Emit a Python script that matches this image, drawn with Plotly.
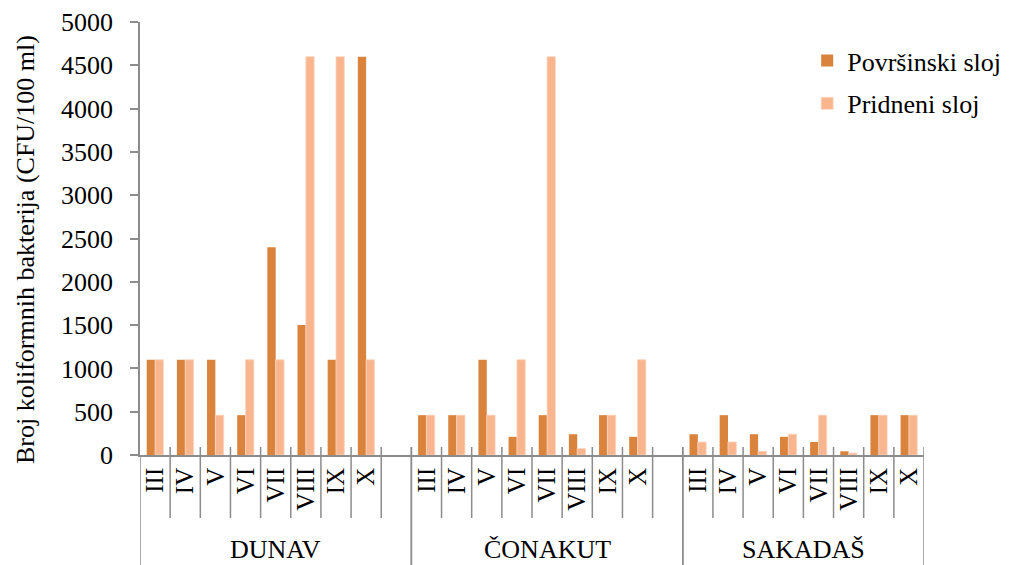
import plotly.graph_objects as go

groups = ["DUNAV", "ČONAKUT", "SAKADAŠ"]
months = ["III", "IV", "V", "VI", "VII", "VIII", "IX", "X"]
# slots per group (Dunav and Čonakut have one empty trailing slot)
group_slots = [9, 9, 8]

povrsinski = {
    "DUNAV":   [1100, 1100, 1100, 460, 2400, 1500, 1100, 4600],
    "ČONAKUT": [460, 460, 1100, 210, 460, 240, 460, 210],
    "SAKADAŠ": [240, 460, 240, 210, 150, 43, 460, 460],
}
pridneni = {
    "DUNAV":   [1100, 1100, 460, 1100, 1100, 4600, 4600, 1100],
    "ČONAKUT": [460, 460, 460, 1100, 4600, 75, 460, 1100],
    "SAKADAŠ": [150, 150, 43, 240, 460, 23, 460, 460],
}
y_ticks = [0, 500, 1000, 1500, 2000, 2500, 3000, 3500, 4000, 4500, 5000]
y_title = "Broj koliformnih bakterija (CFU/100 ml)"

dark = "#DA833D"
light = "#F9B68E"
grey = "#8C8C8C"
font_family = "'Liberation Serif', 'Times New Roman', Times, serif"

# Build slot positions
xs, p_vals, r_vals, tickvals, ticktext = [], [], [], [], []
group_starts = []
pos = 0
for g, n in zip(groups, group_slots):
    group_starts.append(pos)
    for i in range(n):
        xs.append(pos + i)
        if i < len(months):
            p_vals.append(povrsinski[g][i])
            r_vals.append(pridneni[g][i])
            tickvals.append(pos + i)
            ticktext.append(months[i])
        else:
            p_vals.append(None)
            r_vals.append(None)
    pos += n
total = pos

fig = go.Figure()
fig.add_trace(go.Bar(x=xs, y=p_vals, name="Površinski sloj", marker_color=dark,
                     marker_line_width=0, legendgroup="a"))
fig.add_trace(go.Bar(x=xs, y=r_vals, name="Pridneni sloj", marker_color=light,
                     marker_line=dict(color="#FCD6C0", width=0.8), legendgroup="b"))

plot_h = 433.0
plot_w = 784.0
up = 8 / plot_h
short_down = -63 / plot_h
long_down = -112 / plot_h

shapes = []
annotations = []
for g, n, s in zip(groups, group_slots, group_starts):
    # short separators between months (and after the last month)
    last = len(months) if n > len(months) else len(months) - 1
    for i in range(1, last + 1):
        b = s + i - 0.5
        shapes.append(dict(type="line", xref="x", yref="paper", x0=b, x1=b,
                           y0=up, y1=short_down, line=dict(color=grey, width=1.5)))
    # long group boundaries
    for b in (s - 0.5, s + n - 0.5):
        shapes.append(dict(type="line", xref="x", yref="paper", x0=b, x1=b,
                           y0=up if b > -0.5 else 0, y1=long_down,
                           line=dict(color=grey, width=1.5)))
    annotations.append(dict(x=s + (n - 1) / 2, xref="x", yref="paper",
                            y=-94 / plot_h, yanchor="middle",
                            text=g, showarrow=False,
                            font=dict(family=font_family, size=26, color="black")))

# y-axis title (placed as rotated text, slightly below plot centre as in the original)
annotations.append(dict(x=-115 / plot_w, y=1 - 228 / plot_h, xref="paper", yref="paper",
                        xanchor="center", yanchor="middle", textangle=-90,
                        text=y_title, showarrow=False,
                        font=dict(family=font_family, size=26, color="black")))

fig.update_layout(
    template="none",
    width=1001, height=557,
    margin=dict(l=132, r=85, t=14, b=110, autoexpand=False),
    paper_bgcolor="white", plot_bgcolor="white",
    barmode="group", bargap=0.446, bargroupgap=0,
    font=dict(family=font_family, size=26, color="black"),
    showlegend=True,
    legend=dict(x=0.851, y=0.965, xanchor="left", yanchor="top",
                font=dict(family=font_family, size=26, color="black"),
                tracegroupgap=6, bgcolor="rgba(0,0,0,0)"),
    shapes=shapes,
    annotations=annotations,
)
fig.update_xaxes(range=[-0.5, total - 0.5], tickmode="array", tickvals=tickvals,
                 ticktext=ticktext, tickangle=-90, ticks="", showgrid=False,
                 showline=True, linecolor=grey, linewidth=1.5, zeroline=False,
                 ticklabelstandoff=1, automargin=False,
                 tickfont=dict(family=font_family, size=25, color="black"))
fig.update_yaxes(range=[0, 5000], tickmode="array", tickvals=y_ticks,
                 ticks="outside", ticklen=8, tickcolor=grey, tickwidth=1.5,
                 showgrid=False, showline=True, linecolor=grey, linewidth=1.5,
                 zeroline=False, ticklabelstandoff=12, automargin=False,
                 tickfont=dict(family=font_family, size=26, color="black"))

fig.write_html("out.html")
